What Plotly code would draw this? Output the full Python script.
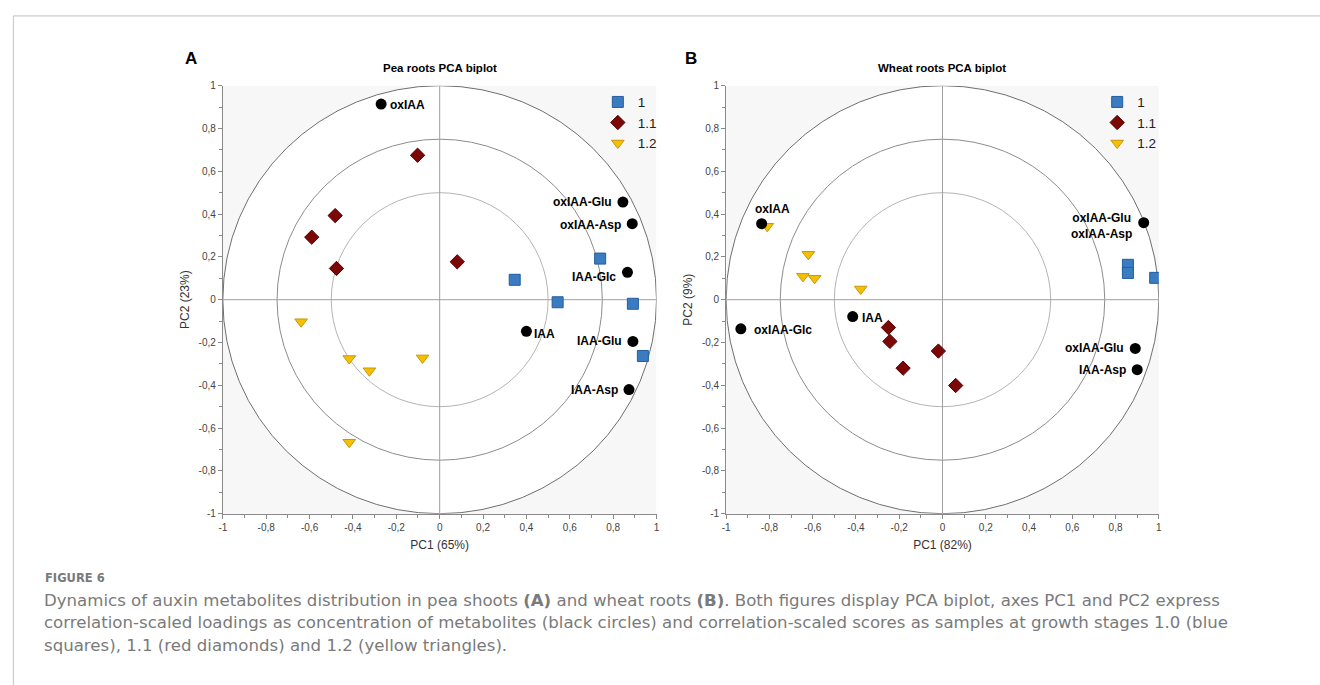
import plotly.graph_objects as go

# ---------------- data ----------------
stages = ["1", "1.1", "1.2"]

# Panel A: pea roots
a_load_names = ["oxIAA", "oxIAA-Glu", "oxIAA-Asp", "IAA-Glc", "IAA", "IAA-Glu", "IAA-Asp"]
a_load_x = [-0.27, 0.845, 0.888, 0.866, 0.40, 0.891, 0.873]
a_load_y = [0.914, 0.456, 0.355, 0.128, -0.148, -0.195, -0.42]
a_s1_x = [0.346, 0.74, 0.544, 0.891, 0.937]
a_s1_y = [0.093, 0.192, -0.012, -0.019, -0.263]
a_s11_x = [-0.102, -0.482, -0.59, -0.476, 0.081]
a_s11_y = [0.675, 0.393, 0.292, 0.146, 0.177]
a_s12_x = [-0.639, -0.417, -0.324, -0.079, -0.417]
a_s12_y = [-0.103, -0.275, -0.332, -0.272, -0.666]

# Panel B: wheat roots
b_load_names = ["oxIAA", "oxIAA-Glu<br>oxIAA-Asp", "IAA", "oxIAA-Glc", "oxIAA-Glu", "IAA-Asp"]
b_load_x = [-0.836, 0.93, -0.415, -0.932, 0.891, 0.90]
b_load_y = [0.355, 0.36, -0.079, -0.136, -0.228, -0.327]
b_s1_x = [0.857, 0.857, 0.983]
b_s1_y = [0.163, 0.125, 0.102]
b_s11_x = [-0.25, -0.243, -0.019, -0.182, 0.061]
b_s11_y = [-0.13, -0.195, -0.24, -0.32, -0.401]
b_s12_x = [-0.81, -0.62, -0.645, -0.591, -0.378]
b_s12_y = [0.343, 0.212, 0.109, 0.10, 0.05]

tick_vals = [-1, -0.8, -0.6, -0.4, -0.2, 0, 0.2, 0.4, 0.6, 0.8, 1]
tick_text = ["-1", "-0,8", "-0,6", "-0,4", "-0,2", "0", "0,2", "0,4", "0,6", "0,8", "1"]

panel_titles = ["Pea roots PCA biplot", "Wheat roots PCA biplot"]
panel_letters = ["A", "B"]
x_titles = ["PC1 (65%)", "PC1 (82%)"]
y_titles = ["PC2 (23%)", "PC2 (9%)"]

caption_head = "FIGURE 6"
caption_lines = [
    "Dynamics of auxin metabolites distribution in pea shoots <b>(A)</b> and wheat roots <b>(B)</b>. Both figures display PCA biplot, axes PC1 and PC2 express",
    "correlation-scaled loadings as concentration of metabolites (black circles) and correlation-scaled scores as samples at growth stages 1.0 (blue",
    "squares), 1.1 (red diamonds) and 1.2 (yellow triangles).",
]

# ---------------- layout geometry ----------------
W, H = 1320, 685
FONT = "Liberation Sans, Arial, sans-serif"


def px_x(p):
    return p / W


def px_y(p):
    return 1 - p / H


dom_y = [px_y(517), px_y(82)]
dom_x = [[px_x(220), px_x(656)], [px_x(726), px_x(1161)]]

fig = go.Figure()

styles = {
    "1": dict(symbol="square", size=11, color="#3a7bc2", line=dict(color="#245e9c", width=1)),
    "1.1": dict(symbol="diamond", size=11, color="#7b0707", line=dict(color="#560000", width=1)),
    "1.2": dict(symbol="triangle-down", size=11, color="#f5c000", line=dict(color="#c8960a", width=1)),
}

label_place_a = [
    ("left", "middle", 7, -1),
    ("right", "middle", -9, 0),
    ("right", "middle", -9, -1),
    ("right", "middle", -9, -5),
    ("left", "middle", 6, -3),
    ("right", "middle", -9, 0),
    ("right", "middle", -9, 0),
]
label_place_b = [
    ("center", "bottom", 11, 6),
    ("right", "middle", -10, -3),
    ("left", "middle", 7, -1),
    ("left", "middle", 11, -1),
    ("right", "middle", -9, 0),
    ("right", "middle", -9, 0),
]

panels = [
    dict(lx=a_load_x, ly=a_load_y, ln=a_load_names, place=label_place_a,
         s=[(a_s1_x, a_s1_y), (a_s11_x, a_s11_y), (a_s12_x, a_s12_y)]),
    dict(lx=b_load_x, ly=b_load_y, ln=b_load_names, place=label_place_b,
         s=[(b_s1_x, b_s1_y), (b_s11_x, b_s11_y), (b_s12_x, b_s12_y)]),
]

annotations = []
shapes = []

for i, p in enumerate(panels):
    xa = "x" if i == 0 else "x2"
    ya = "y" if i == 0 else "y2"
    leg = "legend" if i == 0 else "legend2"
    for k, st in enumerate(stages):
        sx, sy = p["s"][k]
        fig.add_trace(go.Scatter(
            x=sx, y=sy, mode="markers", name=st, xaxis=xa, yaxis=ya,
            legend=leg, marker=styles[st], cliponaxis=True, hoverinfo="x+y+name"))
    fig.add_trace(go.Scatter(
        x=p["lx"], y=p["ly"], mode="markers", xaxis=xa, yaxis=ya, showlegend=False,
        marker=dict(symbol="circle", size=11, color="black"), cliponaxis=False,
        text=p["ln"], hoverinfo="text"))
    for j, name in enumerate(p["ln"]):
        xan, yan, xs, ys = p["place"][j]
        annotations.append(dict(
            x=p["lx"][j], y=p["ly"][j], xref=xa, yref=ya, text="<b>" + name + "</b>",
            showarrow=False, xanchor=xan, yanchor=yan, xshift=xs, yshift=ys,
            font=dict(family=FONT, size=12, color="black"), align="center"))

    shapes.append(dict(type="rect", xref=xa, yref=ya, x0=-1, y0=-1, x1=1, y1=1,
                       fillcolor="#f7f7f7", line=dict(width=0), layer="below"))
    shapes.append(dict(type="circle", xref=xa, yref=ya, x0=-1, y0=-1, x1=1, y1=1,
                       fillcolor="white", line=dict(color="#6e6e6e", width=1), layer="below"))
    shapes.append(dict(type="circle", xref=xa, yref=ya, x0=-0.75, y0=-0.75, x1=0.75, y1=0.75,
                       line=dict(color="#8c8c8c", width=1), layer="below"))
    shapes.append(dict(type="circle", xref=xa, yref=ya, x0=-0.5, y0=-0.5, x1=0.5, y1=0.5,
                       line=dict(color="#b4b4b4", width=1), layer="below"))
    shapes.append(dict(type="line", xref=xa, yref=ya, x0=-1, y0=0, x1=1, y1=0,
                       line=dict(color="#a0a0a0", width=1), layer="below"))
    shapes.append(dict(type="line", xref=xa, yref=ya, x0=0, y0=-1, x1=0, y1=1,
                       line=dict(color="#a0a0a0", width=1), layer="below"))

    cx = (dom_x[i][0] + dom_x[i][1]) / 2
    annotations.append(dict(x=cx, y=px_y(64), xref="paper", yref="paper",
                            text="<b>" + panel_titles[i] + "</b>", showarrow=False,
                            xanchor="center", yanchor="middle",
                            font=dict(family=FONT, size=11.5, color="black")))
    annotations.append(dict(x=px_x(188 if i == 0 else 691), y=px_y(54), xref="paper", yref="paper",
                            text="<b>" + panel_letters[i] + "</b>", showarrow=False,
                            xanchor="center", yanchor="middle",
                            font=dict(family=FONT, size=17, color="black")))

shapes.append(dict(type="line", xref="paper", yref="paper", x0=px_x(9.5), x1=1.01,
                   y0=px_y(11), y1=px_y(11), line=dict(color="#cccccc", width=1.2)))
shapes.append(dict(type="line", xref="paper", yref="paper", x0=px_x(9.5), x1=px_x(9.5),
                   y0=px_y(11), y1=-0.01, line=dict(color="#cccccc", width=1.2)))

CAP_FONT = "DejaVu Sans, Open Sans, sans-serif"
annotations.append(dict(x=px_x(39), y=px_y(582), xref="paper", yref="paper",
                        text="<b>" + caption_head + "</b>", showarrow=False,
                        xanchor="left", yanchor="middle",
                        font=dict(family=CAP_FONT, size=11.5, color="#7a7a7a")))
for k, line in enumerate(caption_lines):
    annotations.append(dict(x=px_x(38), y=px_y(605 + 23 * k), xref="paper", yref="paper",
                            text=line, showarrow=False, xanchor="left", yanchor="middle",
                            font=dict(family=CAP_FONT, size=16.6, color="#7a7a7a")))

axis_common = dict(
    range=[-1, 1], tickmode="array", tickvals=tick_vals, ticktext=tick_text,
    showgrid=False, zeroline=False, showline=True, linecolor="#8a8a8a", linewidth=1,
    ticks="outside", ticklen=4, tickcolor="#8a8a8a", tickwidth=1,
    tickfont=dict(family=FONT, size=10, color="#444444"),
    minor=dict(tickmode="linear", tick0=0, dtick=0.1, ticklen=3, tickcolor="#8a8a8a",
               ticks="outside", showgrid=False),
    fixedrange=True,
)

layout = dict(
    width=W, height=H, autosize=False,
    margin=dict(l=0, r=0, t=0, b=0),
    paper_bgcolor="white", plot_bgcolor="white",
    font=dict(family=FONT),
    shapes=shapes, annotations=annotations,
    legend=dict(x=px_x(597), y=px_y(83), xanchor="left", yanchor="top",
                bgcolor="rgba(0,0,0,0)", font=dict(family=FONT, size=13.5, color="#222"),
                tracegroupgap=0, itemsizing="trace"),
    legend2=dict(x=px_x(1099), y=px_y(83), xanchor="left", yanchor="top",
                 bgcolor="rgba(0,0,0,0)", font=dict(family=FONT, size=13.5, color="#222"),
                 tracegroupgap=0, itemsizing="trace"),
)
for i in range(2):
    sx = "xaxis" if i == 0 else "xaxis2"
    sy = "yaxis" if i == 0 else "yaxis2"
    layout[sx] = dict(axis_common, domain=dom_x[i], anchor="y" if i == 0 else "y2",
                      title=dict(text=x_titles[i], standoff=8,
                                 font=dict(family=FONT, size=12, color="#333333")))
    layout[sy] = dict(axis_common, domain=dom_y, anchor="x" if i == 0 else "x2",
                      title=dict(text=y_titles[i], standoff=6,
                                 font=dict(family=FONT, size=12, color="#333333")))

fig.update_layout(**layout)
fig.write_html("out.html", config={"displayModeBar": False},
               post_script="document.body.style.margin='0';document.body.style.overflow='hidden';")
